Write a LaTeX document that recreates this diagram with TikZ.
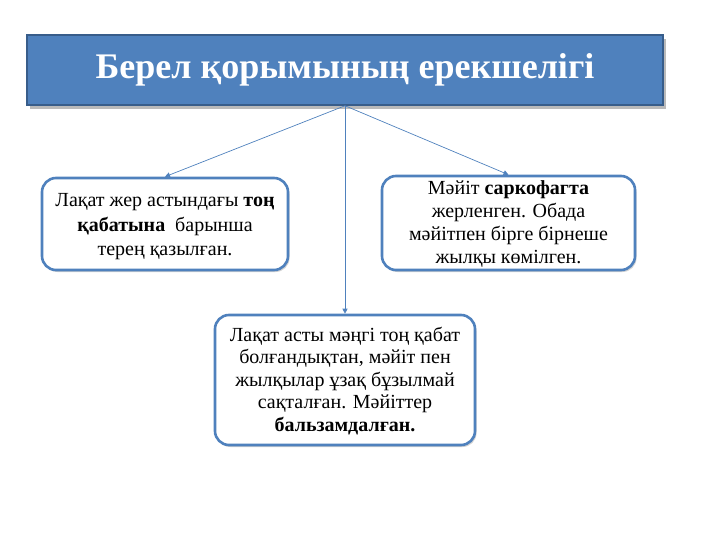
\documentclass[tikz,border=0pt]{standalone}
\usepackage{fontspec}
\setmainfont{Liberation Serif}
\usetikzlibrary{arrows.meta,shadows}
\definecolor{acc}{HTML}{4F81BD}
\definecolor{accdark}{HTML}{385D8A}
\tikzset{
  titlebox/.style={draw=accdark, line width=1.5pt, fill=acc, text=white,
    minimum width=636pt, minimum height=70pt,
    drop shadow={shadow xshift=3pt, shadow yshift=-4pt, fill=black!45, opacity=0.6},
    font=\fontsize{36}{40}\selectfont\bfseries},
  infobox/.style={draw=acc, line width=2.6pt, fill=white, rounded corners=14pt,
    inner sep=0pt,
    drop shadow={shadow xshift=1.5pt, shadow yshift=-2pt, fill=black!35, opacity=0.5}},
  infotext/.style={align=center, inner sep=0pt},
  conn/.style={draw=acc, line width=0.7pt, -{Triangle[length=5pt,width=5pt]}}
}
\begin{document}
\begin{tikzpicture}[x=1pt,y=-1pt]
\useasboundingbox (0,0) rectangle (720,540);
\node[titlebox] (title) at (345,70) {Берел қорымының ерекшелігі};
\node[infobox, minimum width=246pt, minimum height=92pt] (left) at (165,224) {};
\node[infotext, font=\fontsize{20}{24.5}\selectfont] (lefttext) at (165,227)
  {Лақат жер астындағы \textbf{тоң}\\ \textbf{қабатына}~ барынша\\ терең қазылған.};
\node[infobox, minimum width=253pt, minimum height=94pt] (right) at (508.5,223) {};
\node[infotext, font=\fontsize{20}{23.3}\selectfont] (righttext) at (508.5,224)
  {Мәйіт \textbf{саркофагта}\\ жерленген. Обада\\ мәйітпен бірге бірнеше\\ жылқы көмілген.};
\node[infobox, minimum width=260pt, minimum height=130pt] (bottom) at (345,380) {};
\node[infotext, font=\fontsize{20}{22.5}\selectfont] (bottomtext) at (345,381)
  {Лақат асты мәңгі тоң қабат\\ болғандықтан, мәйіт пен\\ жылқылар ұзақ бұзылмай\\ сақталған. Мәйіттер\\ \textbf{бальзамдалған.}};
\draw[conn] (title.south) -- (left.north);
\draw[conn] (title.south) -- (right.north);
\draw[conn] (title.south) -- (bottom.north);
\end{tikzpicture}
\end{document}
